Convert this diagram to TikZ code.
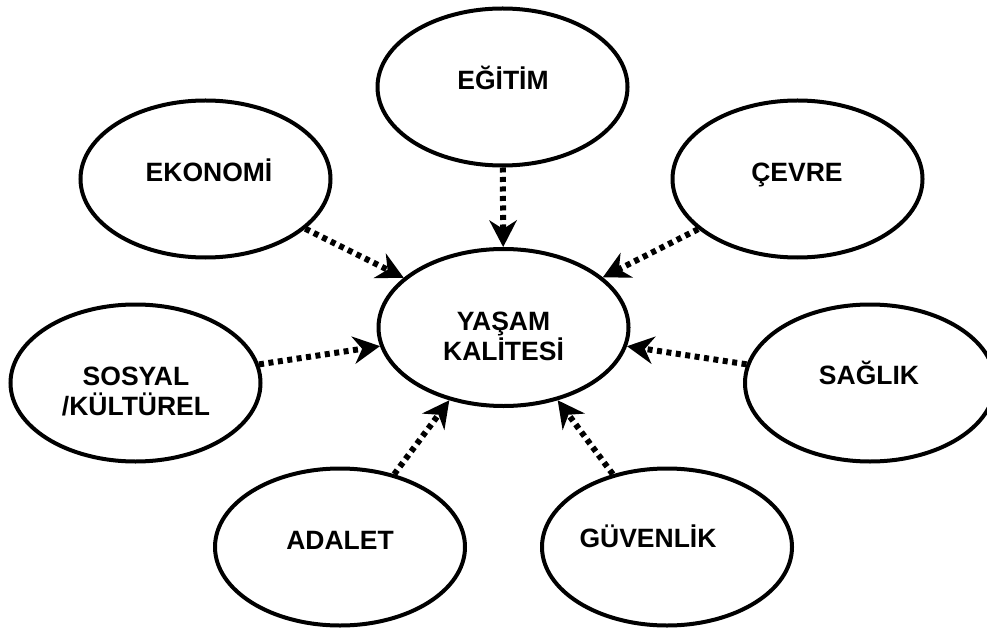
\documentclass[tikz,border=0pt]{standalone}
\usepackage{fontspec}
\setmainfont{Liberation Sans}
\usepackage{tikz}
\usetikzlibrary{shapes,arrows.meta}
\tikzstyle{oval}=[ellipse, draw, line width=4pt, minimum width=250pt, minimum height=157pt, inner sep=0pt]
\tikzstyle{word}=[font=\fontsize{26.5}{30.5}\selectfont\bfseries, inner sep=0pt, anchor=base, align=center]
\tikzstyle{link}=[line width=6pt, dash pattern=on 5pt off 4.5pt, -{Stealth[length=27pt,width=28pt,inset=9pt,line width=0pt]}]

\begin{document}
\begin{tikzpicture}[x=1pt,y=-1pt]

    % frame of the picture, it cuts the right and lower ovals
    \useasboundingbox (0,0) rectangle (987,628);
    \clip (0,0) rectangle (987,628);

    % the ovals
    \node[oval] (yasam) at (503.5,327.5) {};
    \node[oval] (egitim) at (502.5,87) {};
    \node[oval] (ekonomi) at (205.5,179) {};
    \node[oval] (cevre) at (797.5,179) {};
    \node[oval] (sosyal) at (135.5,383) {};
    \node[oval] (saglik) at (870,383) {};
    \node[oval] (adalet) at (340,547) {};
    \node[oval] (guvenlik) at (667,547) {};

    % the words, set on the base line of their last line
    \node[word] (yasam-t) at (503.5,360.5) {YAŞAM\\KALİTESİ};
    \node[word] (egitim-t) at (503,90) {EĞİTİM};
    \node[word] (ekonomi-t) at (209,181.5) {EKONOMİ};
    \node[word] (cevre-t) at (797,181.5) {ÇEVRE};
    \node[word] (sosyal-t) at (136,415.5) {SOSYAL\\/KÜLTÜREL};
    \node[word] (saglik-t) at (869,384) {SAĞLIK};
    \node[word] (adalet-t) at (340,549) {ADALET};
    \node[word] (guvenlik-t) at (648,547) {GÜVENLİK};

    % dotted arrows into the middle oval
    \foreach \n in {egitim,ekonomi,cevre,sosyal,saglik,adalet,guvenlik}
    \draw[link] (\n) -- (yasam);
\end{tikzpicture}
\end{document}
